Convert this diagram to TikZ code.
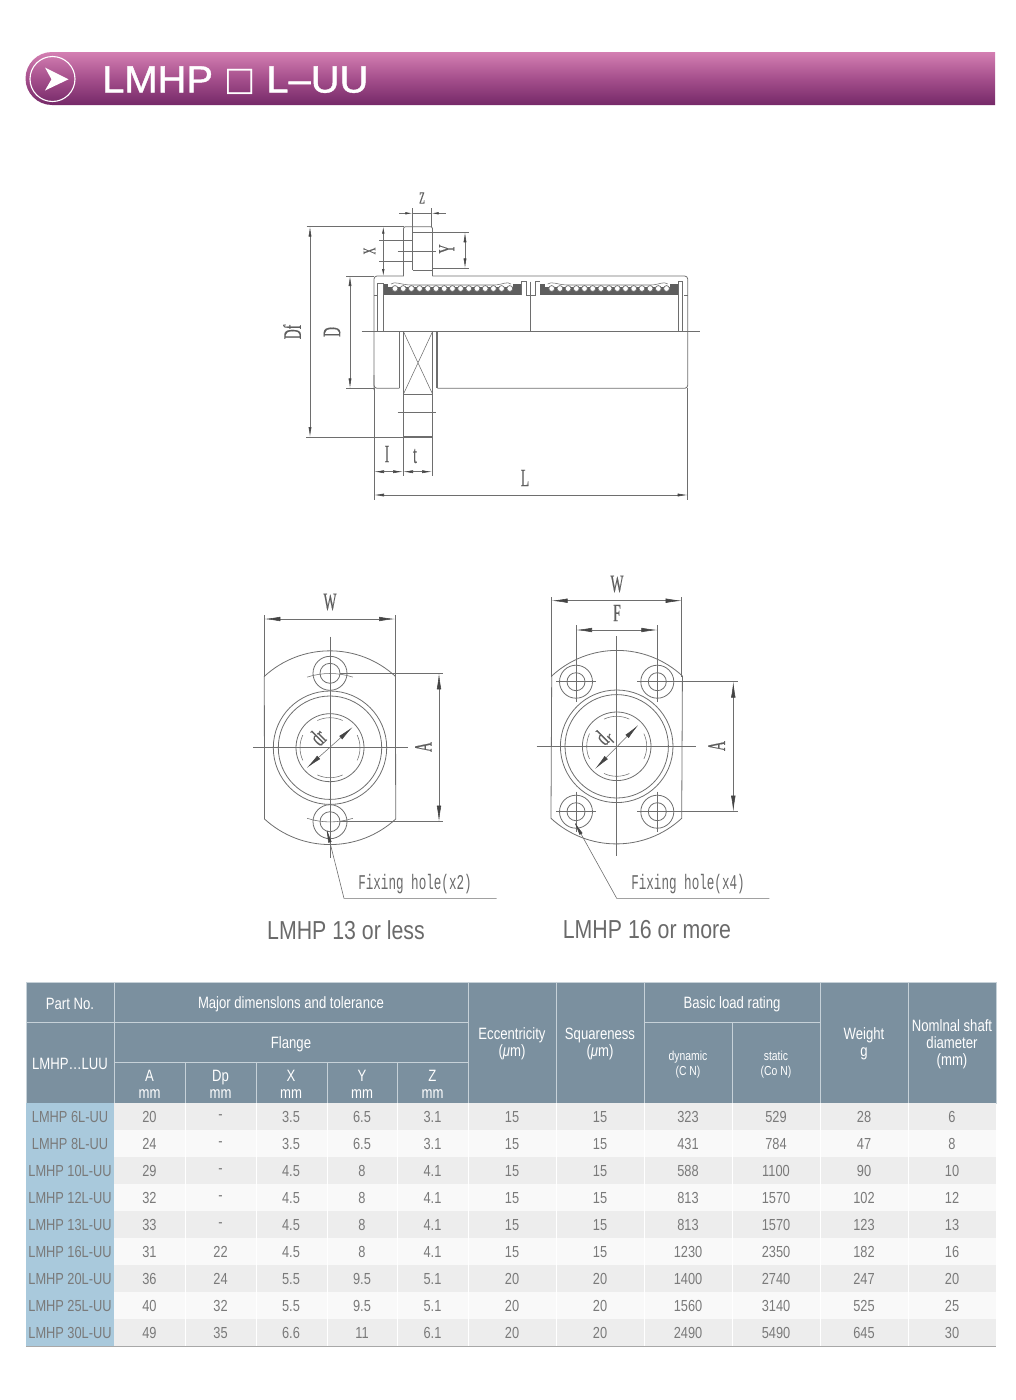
\documentclass[tikz,border=0pt]{standalone}
\usepackage{fontspec}
\usetikzlibrary{arrows.meta}
\setmainfont{Liberation Sans}
\newfontfamily\titlefont[FakeStretch=1.05,FakeBold=1]{Liberation Sans}
\newfontfamily\tablefont[FakeStretch=0.8]{Liberation Sans}
\newfontfamily\capfont[FakeStretch=0.82]{Liberation Sans}
\newfontfamily\cadfont[FakeStretch=0.6]{Liberation Mono}
\newfontfamily\cadserif[FakeStretch=0.55,FakeBold=0.4]{Liberation Serif}
\newfontfamily\symfont{DejaVu Sans}
\definecolor{BannerTop}{HTML}{D47FB2}
\definecolor{BannerMid}{HTML}{A54F8C}
\definecolor{BannerBot}{HTML}{752968}
\definecolor{headblue}{HTML}{7B909F}
\definecolor{headline}{HTML}{C6D1D8}
\definecolor{partblue}{HTML}{A9C9DC}
\definecolor{rowdark}{HTML}{EDEDED}
\definecolor{rowlight}{HTML}{F9F9F9}
\definecolor{tabletext}{HTML}{7A7A7A}
\definecolor{linegray}{HTML}{6E6E6E}
\definecolor{tipgray}{HTML}{444444}
\definecolor{capgray}{HTML}{6A6A6A}
\tikzstyle{part} = [draw=linegray, line width=0.8pt]
\tikzstyle{thin part} = [draw=linegray, line width=0.55pt]
\tikzstyle{dimline} = [draw=linegray, line width=0.55pt, {Latex[length=10pt,width=3pt,color=tipgray]}-{Latex[length=10pt,width=3pt,color=tipgray]}]
\tikzstyle{bigdim} = [draw=linegray, line width=0.55pt, {Latex[length=16pt,width=4.5pt,color=tipgray]}-{Latex[length=16pt,width=4.5pt,color=tipgray]}]
\tikzstyle{smalltip} = [draw=linegray, line width=0.55pt, {Latex[length=7pt,width=2.5pt,color=tipgray]}-]
\tikzstyle{leader} = [draw=linegray, line width=0.6pt, {Latex[length=16pt,width=3.5pt,color=tipgray]}-]
\tikzstyle{cadlabel} = [text=linegray!85!black, inner sep=0pt, font=\cadserif\fontsize{25}{25}\selectfont]
\tikzstyle{holelabel} = [text=capgray, inner sep=0pt, font=\cadfont\fontsize{21}{21}\selectfont]
\tikzstyle{caption} = [text=capgray, inner sep=0pt, font=\capfont\fontsize{26}{26}\selectfont]
\tikzstyle{headcell} = [draw=headline, line width=0.8pt, fill=headblue]
\tikzstyle{headtext} = [text=white, inner sep=0pt, align=center, font=\tablefont\fontsize{16.4}{17}\selectfont]
\tikzstyle{smalltext} = [text=white, inner sep=0pt, align=center, font=\tablefont\fontsize{13}{15}\selectfont]
\tikzstyle{celltext} = [text=tabletext, inner sep=0pt, font=\tablefont\fontsize{16}{16}\selectfont]
\begin{document}
\begin{tikzpicture}[x=1pt,y=-1pt]
    \useasboundingbox (0,0) rectangle (1016,1400);
    % banner
    \shade [top color=BannerTop, bottom color=BannerBot, middle color=BannerMid]
        (995,52) -- (52,52) arc[start angle=90, end angle=270, radius=26.5pt] -- (995,105) -- cycle;
    \draw [white, line width=1.1pt] (52.5,79) circle[radius=22.5pt];
    \fill [white] (45,67.5) -- (68.5,79.3) -- (45,90.5) -- (51.5,79.3) -- cycle;
    \node [anchor=west, text=white, inner sep=0pt, font=\titlefont\fontsize{38}{38}\selectfont] (title) at (102,80.5)
        {LMHP {\symfont\fontsize{33}{33}\selectfont\raisebox{2pt}{□}} L–UU};
    % side view, body and flange
    \draw [part, rounded corners=3pt] (403.5,276) -- (374,276) -- (374,390);
    \draw [part, rounded corners=3pt] (432.5,276) -- (687.7,276) -- (687.7,388.3) -- (437.3,388.3);
    \draw [part, rounded corners=2pt] (403.5,276) -- (403.5,226.7) -- (432.5,226.7) -- (432.5,276);
    \draw [part, rounded corners=3pt] (374,375) -- (374,388.3) -- (399.3,388.3);
    \draw [part] (403.5,331.7) -- (403.5,394) -- (432.5,394) -- (432.5,331.7);
    \draw [part] (403.5,394) -- (403.5,436.7) -- (432.5,436.7) -- (432.5,394);
    \draw [thin part] (403.5,331.7) -- (432.5,394) (432.5,331.7) -- (403.5,394);
    \draw [thin part] (399.3,331.7) -- (399.3,388.3) (436,331.7) -- (436,388.3) (437.3,331.7) -- (437.3,388.3);
    \draw [thin part] (412.7,232.3) -- (412.7,270) (412.7,270) -- (432.5,270);
    \draw [thin part] (361.7,331.7) -- (700,331.7);
    \draw [part] (518,331.7) -- (542,331.7);
    \draw [thin part] (397.5,412.7) -- (436,412.7) (397.5,251) -- (436,251);
    % side view, ball rows
    \fill [linegray!85!black] (383.3,284) rectangle (520.7,295.3);
    \fill [linegray!85!black] (540,284) rectangle (678.3,295.3);
    \foreach \shiftx in {0,156.7} {
        \begin{scope}[xshift=\shiftx pt]
            \fill [white] (388,282) rectangle (513,286.5);
            \draw [thin part] (391,284) .. controls (395,281) and (400,284.5) .. (410,285)
                -- (495,285) .. controls (503,284.5) and (507,281) .. (511,284);
            \foreach \i in {0,...,14} {
                \draw [thin part, line width=0.7pt, fill=white] (395+8.2*\i,288.5) circle[radius=2.9pt];
            }
        \end{scope}
    }
    \draw [thin part] (377.3,331.7) -- (377.3,283.3) -- (383.3,283.3) -- (383.3,331.7);
    \draw [thin part] (374,295.3) -- (378,295.3) (684,295.3) -- (687.7,295.3);
    \draw [thin part] (678.3,331.7) -- (678.3,281.7) -- (682.7,281.7) -- (682.7,331.7);
    \draw [thin part] (521.7,295.3) -- (521.7,281.7) -- (526,281.7) -- (526,295.3) -- (535.7,295.3) -- (535.7,281.7) -- (540,281.7);
    \draw [thin part] (530.7,281.7) -- (530.7,331.7);
    % side view, dimensions
    \coordinate (dfTop) at (310,226.7);
    \coordinate (dfBot) at (310,437);
    \coordinate (dTop) at (350,276);
    \coordinate (dBot) at (350,388.3);
    \coordinate (lLeft) at (374,495);
    \coordinate (lRight) at (687.7,495);
    \coordinate (iMid) at (403,471.7);
    \coordinate (tRight) at (432,471.7);
    \coordinate (iLeft) at (374,471.7);
    \coordinate (yTop) at (465,232.3);
    \coordinate (yBot) at (465,268.3);
    \draw [dimline] (dfTop) -- (dfBot);
    \draw [dimline] (dTop) -- (dBot);
    \draw [dimline] (lLeft) -- (lRight);
    \draw [dimline] (iLeft) -- (iMid);
    \draw [dimline] (iMid) -- (tRight);
    \draw [dimline] (yTop) -- (yBot);
    \draw [smalltip] (383.3,226.7) -- (383.3,240);
    \draw [smalltip] (383.3,276) -- (383.3,261);
    \draw [thin part] (383.3,240) -- (383.3,261);
    \draw [smalltip] (412.3,213.3) -- (399,213.3);
    \draw [smalltip] (431.7,213.3) -- (446,213.3);
    \draw [thin part] (412.3,213.3) -- (431.7,213.3);
    \draw [thin part] (306.7,226.7) -- (403.5,226.7) (306,437) -- (432.5,437);
    \draw [thin part] (346,276) -- (374,276) (346,388.3) -- (374,388.3);
    \draw [thin part] (379.3,240) -- (412.7,240) (379.3,261) -- (412.7,261);
    \draw [thin part] (412.7,232.3) -- (469,232.3) (432.5,268.3) -- (469,268.3);
    \draw [thin part] (412.3,208) -- (412.3,232.3) (431.7,208) -- (431.7,226.7);
    \draw [thin part] (374,388.3) -- (374,500) (687.7,388.3) -- (687.7,500);
    \draw [thin part] (403,437) -- (403,476) (432,437) -- (432,476);
    \node [cadlabel, font=\cadserif\fontsize{17}{17}\selectfont] (zLabel) at (422,198) {Z};
    \node [cadlabel, rotate=90, font=\cadserif\fontsize{18}{18}\selectfont] (xLabel) at (369.5,251) {X};
    \node [cadlabel, rotate=90, font=\cadserif\fontsize{23}{23}\selectfont] (yLabel) at (446.7,249) {Y};
    \node [cadlabel, rotate=90] (dfLabel) at (292,332) {Df};
    \node [cadlabel, rotate=90] (dLabel) at (332,332) {D};
    \node [cadlabel] (iLabel) at (387,454) {I};
    \node [cadlabel] (tLabel) at (415,456) {t};
    \node [cadlabel] (lLabel) at (525,478) {L};
    % front view, 13 or less
    \begin{scope}[shift={(330,747.7)}]
        \draw [part] (-65.7,-71.3) arc[start angle=132.6, end angle=47.4, radius=96.9pt] -- (65.7,71.3)
            arc[start angle=-47.4, end angle=-132.6, radius=96.9pt] -- cycle;
        \draw [part] (0,0) circle[radius=56.7pt] (0,0) circle[radius=51.7pt] (0,0) circle[radius=34pt];
        \foreach \ang in {0,90,180,270} {
            \draw [thin part] (\ang-25:30pt) arc[start angle=\ang-25, end angle=\ang+25, radius=30pt];
        }
        \foreach \holey/\ang in {-74.4/90,74/270} {
            \draw [part, fill=white] (0,\holey) circle[radius=17pt];
            \draw [part] (0,\holey) circle[radius=10pt];
            \draw [thin part] (\ang-18:74.2pt) arc[start angle=\ang-18, end angle=\ang+18, radius=74.2pt];
        }
        \draw [thin part] (0,-111) -- (0,110) (-77,0) -- (78,0);
    \end{scope}
    \coordinate (wLeftA) at (264.3,619);
    \coordinate (wRightA) at (395,619);
    \coordinate (aTopA) at (439,673.3);
    \coordinate (aBotA) at (439,821.7);
    \coordinate (drStartA) at (306.7,768);
    \coordinate (drEndA) at (352.7,727);
    \coordinate (tipA) at (326,826.7);
    \coordinate (kneeA) at (344,898.3);
    \coordinate (endA) at (496.7,898.3);
    \draw [thin part] (264.3,615) -- (264.3,677) (395,615) -- (395,677);
    \draw [thin part] (340,673.3) -- (442.7,673.3) (340,821.7) -- (442.7,821.7);
    \draw [bigdim] (wLeftA) -- (wRightA);
    \draw [bigdim] (aTopA) -- (aBotA);
    \draw [bigdim] (drStartA) -- (drEndA);
    \draw [leader] (tipA) -- (kneeA) -- (endA);
    \node [cadlabel] (wLabelA) at (330,602) {W};
    \node [cadlabel, rotate=90] (aLabelA) at (423.3,747) {A};
    \node [cadlabel, rotate=45] (drLabelA) at (318,737) {dr};
    \node [holelabel] (holeA) at (415,884) {Fixing hole(x2)};
    \node [caption] (capA) at (346,930) {LMHP 13 or less};
    % front view, 16 or more
    \begin{scope}[shift={(616.7,746.3)}]
        \draw [part] (-65,-70.3) arc[start angle=132.8, end angle=47.2, radius=96.2pt] -- (65,72)
            arc[start angle=-47.2, end angle=-132.8, radius=96.2pt] -- cycle;
        \draw [part] (0,0) circle[radius=56.3pt] (0,0) circle[radius=51.7pt] (0,0) circle[radius=34.3pt];
        \foreach \ang in {0,90,180,270} {
            \draw [thin part] (\ang-25:30pt) arc[start angle=\ang-25, end angle=\ang+25, radius=30pt];
        }
        \foreach \holex/\holey in {-40.7/-64.6,40.6/-64.6,-40.7/65.4,40.6/65.4} {
            \draw [part] (\holex,\holey) circle[radius=16.5pt] (\holex,\holey) circle[radius=9pt];
            \draw [thin part] (\holex-20,\holey) -- (\holex+20,\holey) (\holex,\holey-20) -- (\holex,\holey+20);
        }
        \draw [thin part] (0,-110) -- (0,110) (-80,0) -- (79,0);
    \end{scope}
    \coordinate (wLeftB) at (551.7,600.7);
    \coordinate (wRightB) at (681.7,600.7);
    \coordinate (fLeftB) at (576,630);
    \coordinate (fRightB) at (657.3,630);
    \coordinate (aTopB) at (733.3,681.7);
    \coordinate (aBotB) at (733.3,811.7);
    \coordinate (drStartB) at (595,769);
    \coordinate (drEndB) at (638.3,725);
    \coordinate (tipB) at (573.3,820);
    \coordinate (kneeB) at (616.7,898.3);
    \coordinate (endB) at (769.3,898.3);
    \draw [thin part] (551.7,597) -- (551.7,677) (681.7,597) -- (681.7,677);
    \draw [thin part] (576,625) -- (576,668) (657.3,625) -- (657.3,668);
    \draw [thin part] (671.7,681.7) -- (737.7,681.7) (671.7,811.7) -- (737.7,811.7);
    \draw [bigdim] (wLeftB) -- (wRightB);
    \draw [bigdim] (fLeftB) -- (fRightB);
    \draw [bigdim] (aTopB) -- (aBotB);
    \draw [bigdim] (drStartB) -- (drEndB);
    \draw [leader] (tipB) -- (kneeB) -- (endB);
    \node [cadlabel] (wLabelB) at (617,584) {W};
    \node [cadlabel] (fLabelB) at (617,613) {F};
    \node [cadlabel, rotate=90] (aLabelB) at (716.7,746) {A};
    \node [cadlabel, rotate=45] (drLabelB) at (605,737) {d$_{\mathrm r}$};
    \node [holelabel] (holeB) at (688,884) {Fixing hole(x4)};
    \node [caption] (capB) at (647,930) {LMHP 16 or more};
    % table head
    \fill [headblue] (26,982) rectangle (996,1103);
    \foreach \xa/\ya/\xb/\yb in {26/982/114/1022,26/1022/114/1103,114/982/468/1022,114/1022/468/1062,
        114/1062/185/1103,185/1062/256/1103,256/1062/327/1103,327/1062/397/1103,397/1062/468/1103,
        468/982/556/1103,556/982/644/1103,644/982/820/1022,644/1022/732/1103,732/1022/820/1103,
        820/982/908/1103,908/982/996/1103} {
        \draw [headcell] (\xa,\ya) rectangle (\xb,\yb);
    }
    \node [headtext] (hPart) at (70,1004) {Part No.};
    \node [headtext] (hSeries) at (70,1064) {LMHP…LUU};
    \node [headtext] (hMajor) at (291,1004) {Major dimenslons and tolerance};
    \node [headtext] (hFlange) at (291,1044) {Flange};
    \node [headtext] (hA) at (149.5,1084) {A\\mm};
    \node [headtext] (hDp) at (220.5,1084) {Dp\\mm};
    \node [headtext] (hX) at (291,1084) {X\\mm};
    \node [headtext] (hY) at (362,1084) {Y\\mm};
    \node [headtext] (hZ) at (432.5,1084) {Z\\mm};
    \node [headtext] (hEcc) at (512,1044) {Eccentricity\\({\itshape μ}m)};
    \node [headtext] (hSqu) at (600,1044) {Squareness\\({\itshape μ}m)};
    \node [headtext] (hLoad) at (732,1004) {Basic load rating};
    \node [smalltext] (hDyn) at (688,1065) {dynamic\\(C N)};
    \node [smalltext] (hSta) at (776,1065) {static\\(Co N)};
    \node [headtext] (hWei) at (864,1044) {Weight\\g};
    \node [headtext] (hNom) at (952,1044) {Nomlnal shaft\\diameter\\(mm)};
    % table rows
    \foreach \part/\dA/\dDp/\dX/\dY/\dZ/\dEcc/\dSqu/\dDyn/\dSta/\dWei/\dNom [count=\i from 0] in {
        LMHP 6L-UU/20/-/3.5/6.5/3.1/15/15/323/529/28/6,
        LMHP 8L-UU/24/-/3.5/6.5/3.1/15/15/431/784/47/8,
        LMHP 10L-UU/29/-/4.5/8/4.1/15/15/588/1100/90/10,
        LMHP 12L-UU/32/-/4.5/8/4.1/15/15/813/1570/102/12,
        LMHP 13L-UU/33/-/4.5/8/4.1/15/15/813/1570/123/13,
        LMHP 16L-UU/31/22/4.5/8/4.1/15/15/1230/2350/182/16,
        LMHP 20L-UU/36/24/5.5/9.5/5.1/20/20/1400/2740/247/20,
        LMHP 25L-UU/40/32/5.5/9.5/5.1/20/20/1560/3140/525/25,
        LMHP 30L-UU/49/35/6.6/11/6.1/20/20/2490/5490/645/30} {
        \pgfmathsetmacro{\rowy}{1103+27*\i}
        \pgfmathsetmacro{\texty}{\rowy+13.7}
        \pgfmathsetmacro{\rowend}{\rowy+27}
        \ifodd\i\relax
            \fill [rowlight] (114,\rowy) rectangle (996,\rowend);
        \else
            \fill [rowdark] (114,\rowy) rectangle (996,\rowend);
        \fi
        \fill [partblue] (26,\rowy) rectangle (114,\rowend);
        \foreach \sepx in {185,256,327,397,468,556,644,732,820,908} {
            \draw [white, line width=0.5pt] (\sepx,\rowy) -- (\sepx,\rowend);
        }
        \node [celltext] (part\i) at (70,\texty) {\part};
        \foreach \colx/\val in {149.5/\dA,220.5/\dDp,291/\dX,362/\dY,432.5/\dZ,512/\dEcc,600/\dSqu,688/\dDyn,776/\dSta,864/\dWei,952/\dNom} {
            \node [celltext] at (\colx,\texty) {\val};
        }
    }
    \draw [linegray!60, line width=0.8pt] (26,1346) -- (996,1346);
\end{tikzpicture}
\end{document}
